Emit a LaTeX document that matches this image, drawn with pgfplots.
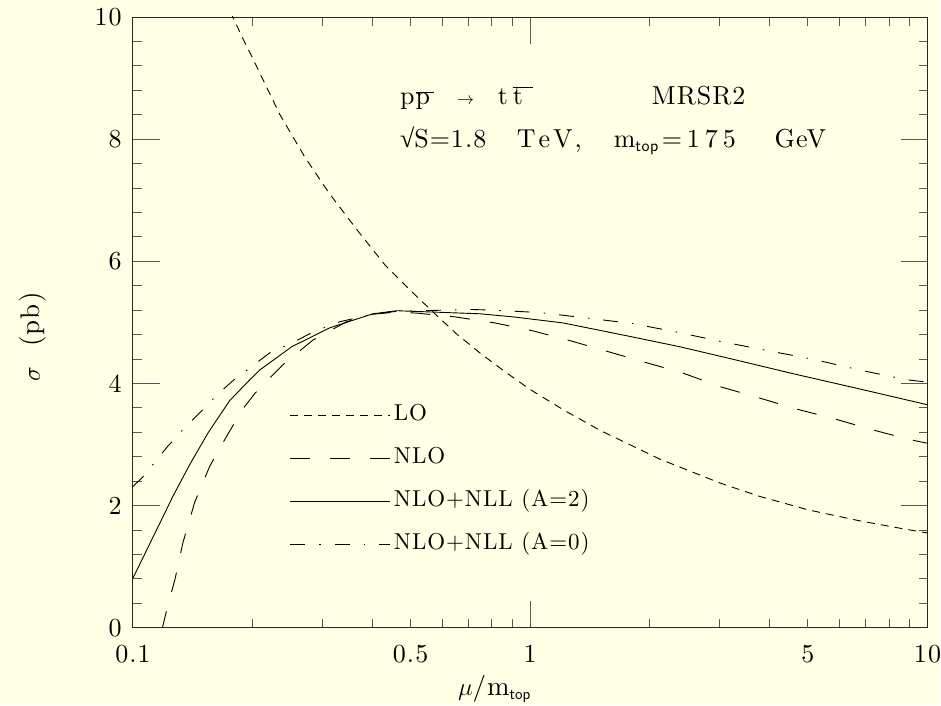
\documentclass[border=0pt]{standalone}
\usepackage{fontspec}
\setmainfont{lmroman10-regular}[Extension=.otf]
\newfontfamily\lm{lmroman10-regular}[Extension=.otf, LetterSpace=4]
\newfontfamily\symf{Liberation Serif}
\usepackage{pgfplots}
\pgfplotsset{compat=1.18}
\definecolor{bg}{RGB}{255,255,229}
\pgfplotstableread{
x y
0.176 10.08
0.19 9.62
0.2 9.33
0.234 8.41
0.27 7.72
0.313 7.10
0.37 6.48
0.431 5.94
0.5 5.52
0.569 5.17
0.65 4.82
0.75 4.49
0.873 4.17
1.0 3.90
1.21 3.57
1.5 3.23
2.12 2.76
3.0 2.37
3.78 2.15
5.0 1.93
6.74 1.75
8.5 1.63
10 1.55
}\LOdata
\pgfplotstableread{
x y
0.1182 -0.05
0.122 0.33
0.1276 0.79
0.1336 1.39
0.143 2.05
0.156 2.64
0.172 3.13
0.189 3.58
0.203 3.84
0.238 4.30
0.284 4.71
0.345 5.01
0.40 5.13
0.46 5.17
0.52 5.15
0.60 5.11
0.646 5.09
0.815 4.99
1.016 4.86
1.26 4.70
1.57 4.52
1.96 4.34
2.42 4.17
3.03 3.94
3.78 3.76
4.68 3.58
5.83 3.42
7.27 3.24
9.01 3.08
10 3.02
}\NLOdata
\pgfplotstableread{
x y
0.1 0.81
0.1125 1.49
0.1263 2.16
0.139 2.67
0.1546 3.19
0.1753 3.72
0.197 4.06
0.2087 4.22
0.251 4.60
0.313 4.91
0.402 5.14
0.461 5.19
0.559 5.17
0.746 5.14
0.904 5.09
1.21 4.99
1.78 4.77
2.38 4.60
3.12 4.42
4.58 4.16
6.74 3.91
10 3.65
}\Atwodata
\pgfplotstableread{
x y
0.1 2.31
0.106 2.47
0.1123 2.67
0.122 2.96
0.1336 3.24
0.1474 3.52
0.1626 3.81
0.179 4.05
0.221 4.50
0.251 4.66
0.284 4.84
0.332 5.01
0.40 5.13
0.46 5.18
0.52 5.19
0.617 5.20
0.713 5.21
0.805 5.20
1.057 5.16
1.39 5.07
1.81 4.98
2.34 4.84
3.05 4.68
4.01 4.53
5.2 4.39
6.74 4.22
8.85 4.06
10 4.02
}\Azerodata
\begin{document}
\begin{tikzpicture}
\fill[bg] (-133pt,-77pt) rectangle (808pt,628pt);
\begin{axis}[
  at={(0pt,0pt)}, anchor=south west,
  scale only axis, width=795pt, height=611pt,
  xmode=log, xmin=0.1, xmax=10, ymin=0, ymax=10,
  xtick={0.1,1,10}, xticklabels={0.1,1,10},
  extra x ticks={0.5,5}, extra x tick labels={0.5,5},
  extra x tick style={major tick length=9pt},
  minor xtick={0.2,0.3,0.4,0.5,0.6,0.7,0.8,0.9,2,3,4,5,6,7,8,9},
  ytick={0,2,4,6,8,10}, yticklabels={0,2,4,6,8,10},
  minor y tick num=4,
  tick align=inside, tick pos=both,
  major tick length=27pt, minor tick length=9pt,
  tick style={line width=0.9pt, black!65},
  axis line style={line width=0.9pt, black!85},
  xticklabel style={font=\fontsize{26}{26}\lm, inner sep=0pt, anchor=north, yshift=-17pt},
  yticklabel style={font=\fontsize{26}{26}\lm, inner sep=0pt, anchor=east, xshift=-11pt},
  xlabel={$\mu$/m$_{\textsf{\fontsize{16}{16}\selectfont top}}$},
  xlabel style={font=\fontsize{27}{27}\lm, at={(axis description cs:0.455,0)}, anchor=base, yshift=-68pt},
  ylabel={$\sigma$\ \ (pb)},
  ylabel style={font=\fontsize{27}{27}\lm, at={(axis description cs:-0.117,0.476)}, anchor=base},
  legend style={draw=none, fill=none, at={(rel axis cs:0.1975,0.364)}, anchor=north west,
    font=\fontsize{23}{23}\lm, row sep=23pt, inner sep=0pt,
    nodes={inner sep=0pt, text height=15pt, text depth=5pt}},
  legend cell align=left,
  legend image code/.code={\draw[#1] (0pt,0pt) -- (100pt,0pt);},
  every axis plot/.append style={line width=0.9pt, black},
]
\addplot[dash pattern=on 8pt off 6pt] table {\LOdata};
\addlegendentry{\hspace{3pt}LO}
\addplot[dash pattern=on 20pt off 20pt] table {\NLOdata};
\addlegendentry{\hspace{3pt}NLO}
\addplot[solid] table {\Atwodata};
\addlegendentry{\hspace{3pt}NLO+NLL (A=2)}
\addplot[dash pattern=on 15pt off 14pt on 1.5pt off 14pt] table {\Azerodata};
\addlegendentry{\hspace{3pt}NLO+NLL (A=0)}
\begin{scope}[every node/.style={anchor=base west, font=\fontsize{26}{26}\lm, inner sep=0pt}]
\node at (rel axis cs:0.336,0.856) {p\kern1pt$\overline{\hbox{\lm p\kern4pt}}$};
\node at (rel axis cs:0.4075,0.856) {$\scriptstyle\rightarrow$};
\node at (rel axis cs:0.459,0.856) {t\kern5pt$\overline{\hbox{\lm t\kern10pt}}$};
\node at (rel axis cs:0.653,0.856) {M\kern1pt R\kern1pt S\kern1pt R\kern1pt 2};
\node at (rel axis cs:0.336,0.786) {{\symf √}S\kern1pt=\kern1pt1.8};
\node at (rel axis cs:0.483,0.786) {T\kern3pt e\kern3pt V\kern2pt,};
\node at (rel axis cs:0.605,0.786) {m$_{\textsf{\fontsize{17}{17}\selectfont t\kern0.5pt o\kern0.5pt p}}$\kern3pt=};
\node at (rel axis cs:0.697,0.786) {1\kern5pt7\kern5pt5};
\node at (rel axis cs:0.8075,0.786) {GeV};
\end{scope}
\end{axis}
\end{tikzpicture}
\end{document}
